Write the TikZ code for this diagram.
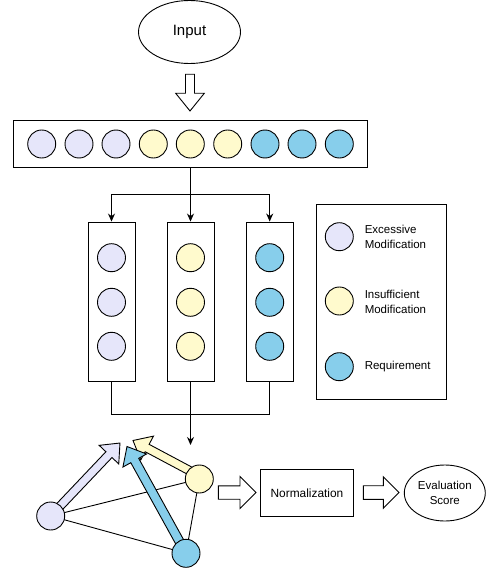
\documentclass[tikz,border=0pt]{standalone}
\usepackage{fontspec}
\setmainfont{Liberation Sans}
\usetikzlibrary{calc,arrows.meta,shapes.geometric}
\definecolor{lav}{HTML}{E6E6FA}
\definecolor{yel}{HTML}{FFFACD}
\definecolor{sky}{HTML}{87CEEB}
% #1 style, #2 start, #3 tip, #4 shaft half width, #5 head half width, #6 head length
\newcommand\blockarr[6]{%
  \draw[#1] let \p1=($(#3)-(#2)$), \n1={atan2(\y1,\x1)}, \n2={veclen(\x1,\y1)} in
    [shift={(#2)}, rotate=\n1]
    (0pt,-#4) -- ({\n2*1pt-#6},-#4) -- ({\n2*1pt-#6},-#5) -- ({\n2*1pt},0pt)
    -- ({\n2*1pt-#6},#5) -- ({\n2*1pt-#6},#4) -- (0pt,#4) -- cycle;}
\begin{document}
\begin{tikzpicture}[x=1pt,y=-1pt,line width=0.9pt,
  dot/.style={circle,draw,minimum size=28pt,inner sep=0pt},
  box/.style={draw,rectangle,inner sep=0pt},
  lbl/.style={font=\fontsize{11.5}{15}\selectfont,align=left,anchor=west,inner sep=0pt},
  conn/.style={-{Stealth[length=8pt,width=7pt]}},
  blk/.style={draw,fill=white,line join=miter}]
\useasboundingbox (0,0) rectangle (486,572);

% input
\node[ellipse,draw,minimum width=102pt,minimum height=63pt,inner sep=0pt,
      font=\fontsize{15}{18}\selectfont] (input) at (189.5,32) {Input};
\coordinate (ia) at (190,74.3);
\coordinate (ib) at (190,111);
\blockarr{blk}{ia}{ib}{4.5pt}{14.3pt}{17.7pt}

% row of tokens
\node[box,minimum width=354pt,minimum height=46.3pt] (row) at (190.3,143.9) {};
\foreach \x/\c [count=\i] in {41.7/lav,79/lav,116/lav,153.3/yel,190.3/yel,227.7/yel,265/sky,302/sky,339.3/sky}
  \node[dot,fill=\c] (r\i) at (\x,144) {};

% columns
\node[box,minimum width=47pt,minimum height=159pt] (c1) at (111.5,301.5) {};
\node[box,minimum width=47pt,minimum height=159pt] (c2) at (190.5,301.5) {};
\node[box,minimum width=47pt,minimum height=159pt] (c3) at (269.7,301.5) {};
\foreach \y [count=\j] in {257.7,302.3,346.3}{
  \node[dot,fill=lav] (a\j) at (111.5,\y) {};
  \node[dot,fill=yel] (b\j) at (190.5,\y) {};
  \node[dot,fill=sky] (s\j) at (269.7,\y) {};
}
\coordinate (split) at (190.5,194.7);
\draw (row.south -| split) -- (split);
\draw[conn] (split) -| (c1.north);
\draw[conn] (split) -| (c3.north);
\draw[conn] (split) -- (c2.north);
\coordinate (merge) at (190.5,414);
\draw (c1.south) |- (merge);
\draw (c3.south) |- (merge);
\coordinate (cend) at (190.5,445);
\draw[conn] (c2.south) -- (cend);

% legend
\node[box,minimum width=130.7pt,minimum height=195pt] (legend) at (381.3,301.8) {};
\node[dot,fill=lav] (l1) at (339.3,236.7) {};
\node[dot,fill=yel] (l2) at (339.3,301) {};
\node[dot,fill=sky] (l3) at (339.3,366.7) {};
\node[lbl] (t1) at (364.3,236.7) {Excessive\\Modification};
\node[lbl] (t2) at (364.3,301.5) {Insufficient\\Modification};
\node[lbl] (t3) at (364.3,366.2) {Requirement};

% graph
\coordinate (ga0) at (50.7,516);
\coordinate (gy0) at (199.3,479);
\coordinate (gb0) at (186,553.3);
\draw (ga0) -- (gy0);
\draw (ga0) -- (gb0);
\draw (gy0) -- (gb0);
\coordinate (tipa) at (120,443);
\coordinate (tipy) at (133,440.5);
\coordinate (tipb) at (127,446.5);
\coordinate (sty) at (194,473);
\blockarr{draw,fill=lav,line join=miter}{ga0}{tipa}{4.2pt}{13.5pt}{16pt}
\blockarr{draw,fill=yel,line join=miter}{sty}{tipy}{4.2pt}{13.5pt}{16pt}
\blockarr{draw,fill=sky,line join=miter}{gb0}{tipb}{4.5pt}{13.5pt}{16pt}
\node[dot,fill=lav] (ga) at (ga0) {};
\node[dot,fill=yel] (gy) at (gy0) {};
\node[dot,fill=sky] (gb) at (gb0) {};

% normalization and score
\coordinate (h1a) at (218.3,492.5);
\coordinate (h1b) at (256,492.5);
\blockarr{blk}{h1a}{h1b}{6.7pt}{16pt}{16pt}
\node[box,minimum width=92.6pt,minimum height=47pt,font=\fontsize{11.9}{14}\selectfont] (norm) at (307,492.8) {Normalization};
\coordinate (h2a) at (363.3,492.5);
\coordinate (h2b) at (399,492.5);
\blockarr{blk}{h2a}{h2b}{6.8pt}{15.8pt}{15.7pt}
\node[ellipse,draw,minimum width=81pt,minimum height=56pt,inner sep=0pt,align=center,
      font=\fontsize{11.5}{15.5}\selectfont] (score) at (444.8,493) {Evaluation\\Score};
\end{tikzpicture}
\end{document}
